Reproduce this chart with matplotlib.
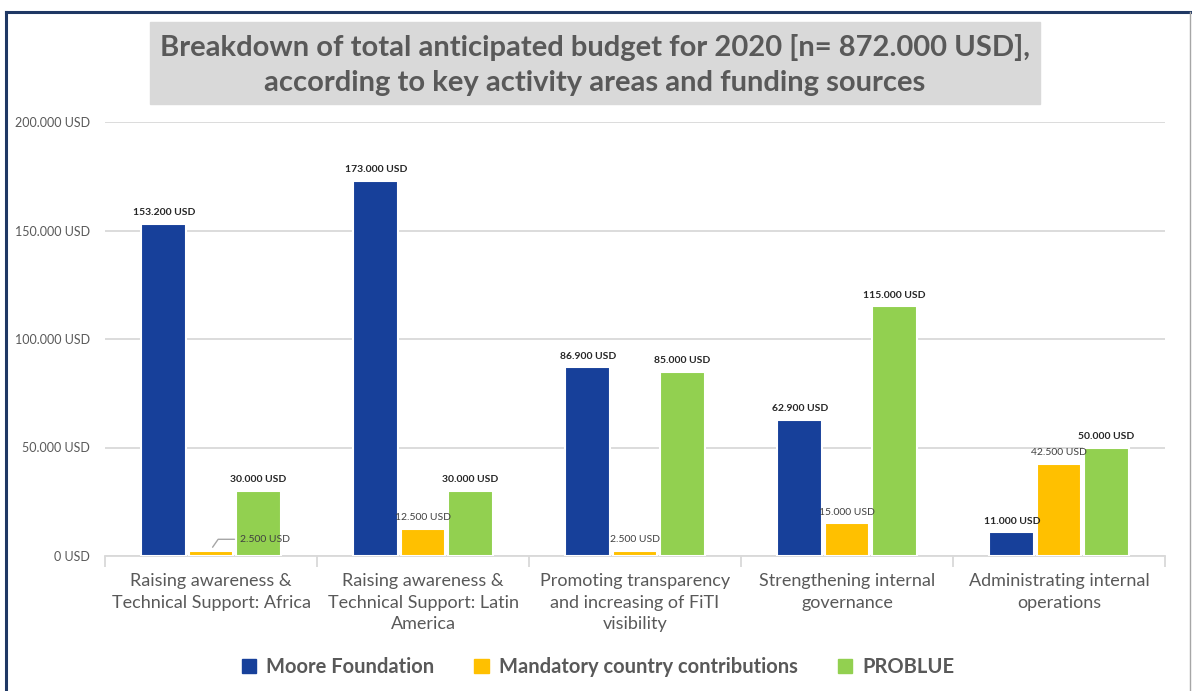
"""Budget breakdown 2020 by activity area and funding source."""

import matplotlib.pyplot as plt
import numpy as np
from matplotlib.lines import Line2D
from matplotlib.patches import Rectangle

categories = [
    "Raising awareness &\nTechnical Support: Africa",
    "Raising awareness &\nTechnical Support: Latin\nAmerica",
    "Promoting transparency\nand increasing of FiTI\nvisibility",
    "Strengthening internal\ngovernance",
    "Administrating internal\noperations",
]
sources = ["Moore Foundation", "Mandatory country contributions", "PROBLUE"]
moore = [153200, 173000, 86900, 62900, 11000]
mandatory = [2500, 12500, 2500, 15000, 42500]
problue = [30000, 30000, 85000, 115000, 50000]
yticks = [0, 50000, 100000, 150000, 200000]

COLORS = ["#17409A", "#FFC000", "#92D050"]
GREY = "#595959"
FONT = "Lato"

W, H = 1192, 691


def usd(v):
    return f"{v:,.0f}".replace(",", ".") + " USD"


fig = plt.figure(figsize=(W / 100, H / 100), dpi=100)
plt.rcParams["font.family"] = [FONT, "DejaVu Sans"]

# outer frame and title box (figure pixel coords -> fractions)
fig.add_artist(Line2D([6 / W, 6 / W], [0, 1 - 12 / H], color="#1F3864", lw=2.2))
fig.add_artist(Line2D([6 / W, 1190 / W], [1 - 12 / H, 1 - 12 / H], color="#1F3864", lw=2.2))
fig.add_artist(Line2D([1190 / W, 1190 / W], [0, 1 - 12 / H], color="#A6A6A6", lw=1))
fig.add_artist(Rectangle((150 / W, 1 - 104 / H), 890 / W, 82 / H,
                         transform=fig.transFigure, color="#D9D9D9", zorder=0))
fig.text(595 / W, 1 - 65 / H,
         "Breakdown of total anticipated budget for 2020 [n= 872.000 USD],\n"
         "according to key activity areas and funding sources",
         ha="center", va="center", fontsize=21, fontweight="bold", color=GREY,
         linespacing=1.45)

ax = fig.add_axes([105 / W, 1 - 556 / H, 1060 / W, 434 / H])
x = np.arange(len(categories))
width = 0.212
step = 0.222
series = [moore, mandatory, problue]
for i, (vals, col) in enumerate(zip(series, COLORS)):
    xs = x + (i - 1) * step
    ax.bar(xs, vals, width=width, color=col, edgecolor="white", linewidth=1.5, zorder=3)
    for j, (xx, v) in enumerate(zip(xs, vals)):
        weight = "normal" if i == 1 else "bold"
        tcol = "#404040" if i == 1 else "#262626"
        if i == 1 and j == 0:
            # leader line to the small label
            ax.annotate(usd(v), xy=(xx, v + 500), xytext=(xx + 0.255, v + 5200),
                        ha="center", va="center", fontsize=7.5, color=tcol, zorder=6,
                        arrowprops=dict(arrowstyle="-", color="#A6A6A6", lw=1,
                                        connectionstyle="angle,angleA=0,angleB=55,rad=0"))
            continue
        ax.annotate(usd(v), xy=(xx, v), xytext=(0, 8), textcoords="offset points",
                    ha="center", va="center", fontsize=7.5, fontweight=weight, color=tcol,
                    zorder=6)

ax.set_ylim(0, 200000)
ax.set_xlim(-0.5, len(categories) - 0.5)
ax.set_yticks(yticks)
ax.set_yticklabels([usd(v) for v in yticks], fontsize=9, color=GREY)
ax.yaxis.grid(True, color="#D9D9D9", lw=1.3, zorder=0)
ax.tick_params(axis="y", length=0, pad=11)
ax.set_xticks(x)
ax.set_xticklabels(categories, fontsize=13, color=GREY, linespacing=1.45)
ax.tick_params(axis="x", length=0, pad=12)
ax.set_xticks(np.arange(len(categories) + 1) - 0.5, minor=True)
ax.tick_params(axis="x", which="minor", length=8, color="#D9D9D9", width=1.3)
for side in ["top", "right", "left"]:
    ax.spines[side].set_visible(False)
ax.spines["bottom"].set_color("#D9D9D9")
ax.spines["bottom"].set_linewidth(1.3)

handles = [Rectangle((0, 0), 1, 1, color=c) for c in COLORS]
fig.legend(handles, sources, loc="center", bbox_to_anchor=(598 / W, 1 - 667 / H),
           ncol=3, frameon=False, handlelength=0.7, handleheight=0.7,
           columnspacing=2.0, handletextpad=0.5,
           prop={"family": [FONT], "weight": "bold", "size": 14.5})
for t in fig.legends[0].get_texts():
    t.set_color(GREY)

fig.savefig("out.png", dpi=100)
